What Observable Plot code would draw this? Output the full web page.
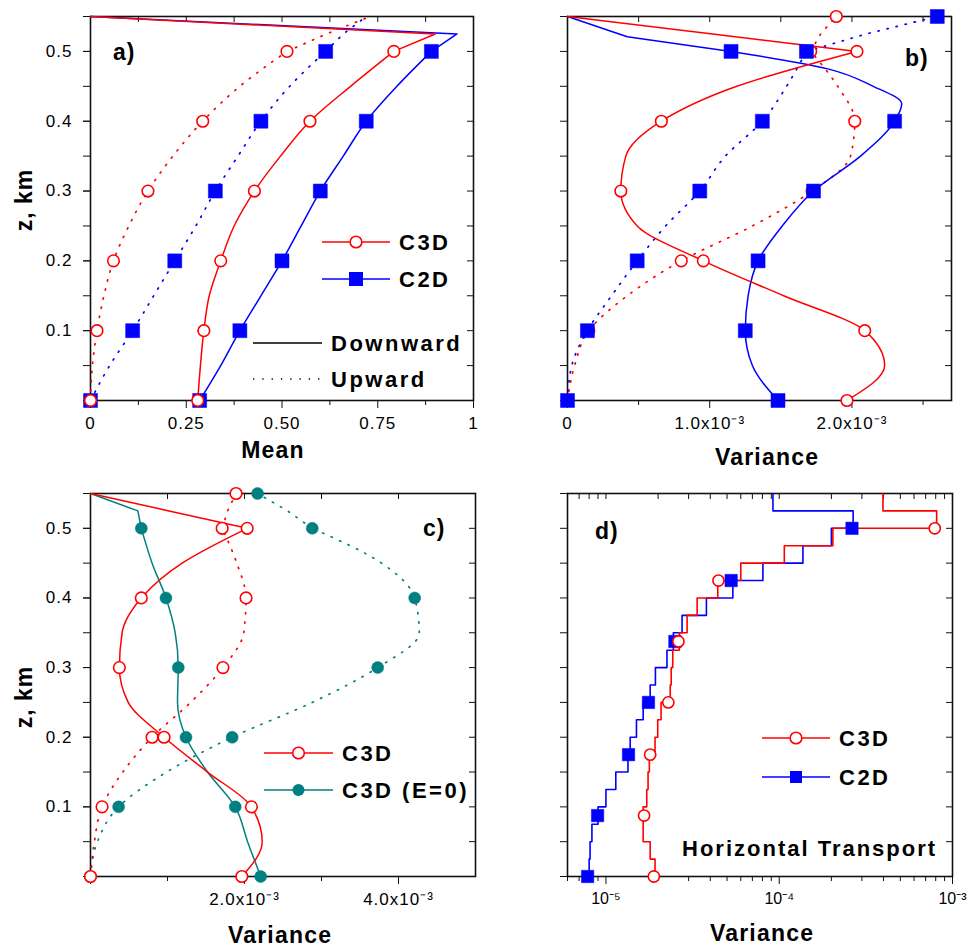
<!DOCTYPE html>
<html><head><meta charset="utf-8">
<script src="https://cdn.jsdelivr.net/npm/d3@7"></script>
<script src="https://cdn.jsdelivr.net/npm/@observablehq/plot@0.6"></script>
<style>
body{margin:0;background:#fff;}
#wrap{position:relative;width:967px;height:947px;background:#fff;overflow:hidden;}
</style></head><body><div id="wrap"></div>
<script>
// ---------------- DATA ----------------
// heights (km) at which the profiles were read
const zProfile = [0,0.05,0.1,0.15,0.2,0.25,0.3,0.35,0.4,0.45,0.5,0.525,0.55];
const zMarks = [0,0.1,0.2,0.3,0.4,0.5];
const zMarksTop = [0,0.1,0.2,0.3,0.4,0.5,0.55];

// panel a) Mean
const meanDown3D = [0.28,0.287,0.296,0.31,0.34,0.375,0.428,0.496,0.573,0.679,0.792,0.90,0];
const meanDown2D = [0.285,0.34,0.39,0.445,0.50,0.55,0.60,0.66,0.72,0.80,0.89,0.957,0];
const meanUp3D   = [0,0.005,0.017,0.035,0.06,0.10,0.15,0.215,0.293,0.39,0.513,0.616,0.73];
const meanUp2D   = [0,0.05,0.11,0.165,0.22,0.275,0.326,0.385,0.445,0.52,0.614,0.66,0.72];

// panels b) and c) Variance, in units of 1e-3
const varDown3D = [1.965,2.23,2.09,1.52,0.955,0.49,0.375,0.41,0.66,1.19,2.035,1.02,0];
const varUp3D   = [0,0.05,0.15,0.42,0.80,1.30,1.72,1.99,2.02,1.90,1.71,1.78,1.89];
const zDown2D   = [0,0.05,0.1,0.15,0.2,0.25,0.3,0.35,0.4,0.425,0.45,0.475,0.5,0.521,0.55];
const varDown2D = [1.48,1.30,1.25,1.27,1.34,1.51,1.73,2.06,2.30,2.35,2.15,1.83,1.15,0.42,0];
const varUp2D   = [0,0.03,0.14,0.31,0.49,0.69,0.93,1.11,1.37,1.54,1.68,2.10,2.60];
const varDownE0 = [2.21,2.04,1.88,1.52,1.24,1.13,1.14,1.10,0.98,0.80,0.66,0.615,0];
const varUpE0   = [0,0.09,0.365,0.99,1.84,2.88,3.73,4.27,4.21,3.78,2.88,2.56,2.17];

// panel d) Horizontal transport (step profiles, 0.025 km layers)
const zStep = [0,0.025,0.05,0.075,0.1,0.125,0.15,0.175,0.2,0.225,0.25,0.275,0.3,0.325,0.35,0.375,0.4,0.425,0.45,0.475,0.5,0.525,0.55];
const stepC3D = [1.92e-5,1.80e-5,1.64e-5,1.64e-5,1.72e-5,1.75e-5,1.78e-5,1.92e-5,1.99e-5,2.08e-5,2.35e-5,2.38e-5,2.43e-5,2.65e-5,2.94e-5,3.36e-5,4.42e-5,6.0e-5,1.07e-4,2.04e-4,8.1e-4,3.97e-4];
const stepC2D = [8.0e-6,8.1e-6,8.3e-6,9.0e-6,1.0e-5,1.14e-5,1.34e-5,1.38e-5,1.50e-5,1.64e-5,1.80e-5,1.93e-5,2.25e-5,2.45e-5,2.75e-5,3.8e-5,5.4e-5,8.05e-5,1.37e-4,2.0e-4,2.67e-4,9.2e-5];
const zMarkD = [0,0.0875,0.175,0.25,0.3375,0.425,0.5];
const markC3D = [1.89e-5,1.66e-5,1.80e-5,2.29e-5,2.62e-5,4.46e-5,7.9e-4];
const markC2D = [7.84e-6,8.95e-6,1.35e-5,1.76e-5,2.5e-5,5.28e-5,2.63e-4];

// ticks
const zTicks = [0,0.05,0.1,0.15,0.2,0.25,0.3,0.35,0.4,0.45,0.5,0.55];
const zLabels = [0.1,0.2,0.3,0.4,0.5];
const meanMajor = [0,0.25,0.5,0.75,1], meanMinor = [0.125,0.375,0.625,0.875];
const varBMajor = [0,1,2], varBMinor = [0.5,1.5,2.5];
const varCMajor = [0,2,4], varCMinor = [1,3];
const logMajor = [1e-5,1e-4,1e-3];
const logMinor = [6e-6,7e-6,8e-6,9e-6,2e-5,3e-5,4e-5,5e-5,6e-5,7e-5,8e-5,9e-5,2e-4,3e-4,4e-4,5e-4,6e-4,7e-4,8e-4,9e-4];

// ---------------- HELPERS ----------------
const RED = "#ff0000", BLUE = "#0000ff", TEAL = "#008080", INK = "#111";
const FONT = '"Liberation Sans", Arial, Helvetica, sans-serif';
const DOTS = "1.3 8";
const wrap = document.getElementById("wrap");
const rowsOf = (z, v) => z.map((zz, i) => ({z: zz, v: v[i]}));
const near = (a, b) => Math.abs(a - b) < 1e-9;
const lower = r => r.filter(d => d.z <= 0.5 + 1e-9);
const upper = r => r.filter(d => d.z >= 0.5 - 1e-9);
const at = (r, zs) => r.filter(d => zs.some(t => near(t, d.z)));

function profile(r, stroke, dotted) {
  const o = {x: "v", y: "z", stroke, strokeWidth: dotted ? 1.7 : 1.5};
  if (dotted) o.strokeDasharray = DOTS;
  return [Plot.line(lower(r), {...o, curve: "monotone-y"}), Plot.line(upper(r), {...o, curve: "linear"})];
}
const openCircle = (r, c, rr = 5.8) => Plot.dot(r, {x: "v", y: "z", r: rr, stroke: c, fill: "white", strokeWidth: 1.6});
const square = (r, c, rr = 7.9) => Plot.dot(r, {x: "v", y: "z", symbol: "square", r: rr, fill: c, stroke: c, strokeWidth: 0.5});
const disc = (r, c) => Plot.dot(r, {x: "v", y: "z", r: 6, fill: c, stroke: c, strokeWidth: 0.5});

function panel({left, top, width, height, mL, mR, mT, mB, x, xMajor, xMinor, xFormat, xFontSize = "17px", xLetter = "1px", yLabels, marks}) {
  const fw = width - mL - mR, fh = height - mT - mB;
  const svg = Plot.plot({
    width, height, marginLeft: mL, marginRight: mR, marginTop: mT, marginBottom: mB,
    x, y: {domain: [0, 0.55]},
    style: {fontFamily: FONT, fontSize: "17px", letterSpacing: "1px", background: "transparent", color: "#000", overflow: "visible"},
    marks: [
      Plot.frame({stroke: INK, strokeWidth: 1.6}),
      Plot.axisY({ticks: zTicks, tickSize: 7, tickFormat: () => "", label: null, stroke: INK}),
      yLabels ? Plot.axisY({ticks: zLabels, tickSize: 7, tickPadding: 11, tickFormat: d => d.toFixed(1), label: null, stroke: INK}) : null,
      Plot.axisX({ticks: xMinor, tickSize: 5, tickFormat: () => "", label: null, stroke: INK}),
      Plot.axisX({ticks: xMajor, tickSize: 8, tickPadding: 8, tickFormat: xFormat, label: null, stroke: INK, fontSize: xFontSize, style: null}),
      Plot.ruleX([...xMajor, ...xMinor], {insetBottom: fh - 6, stroke: INK}),
      Plot.ruleY(zTicks, {insetLeft: fw - 6, stroke: INK}),
      ...marks
    ].filter(Boolean)
  });
  svg.querySelectorAll('[aria-label="x-axis tick label"]').forEach(g => g.setAttribute("letter-spacing", xLetter));
  const div = document.createElement("div");
  div.style.position = "absolute"; div.style.left = left + "px"; div.style.top = top + "px";
  div.append(svg);
  wrap.append(div);
}

const sup = {"-": "⁻", "0": "⁰", "1": "¹", "2": "²", "3": "³", "4": "⁴", "5": "⁵", "6": "⁶", "7": "⁷", "8": "⁸", "9": "⁹"};
const toSup = s => String(s).split("").map(c => sup[c] || c).join("");

// ---------------- PANEL a ----------------
{
  const d3D = rowsOf(zProfile, meanDown3D), d2D = rowsOf(zProfile, meanDown2D);
  const u3D = rowsOf(zProfile, meanUp3D), u2D = rowsOf(zProfile, meanUp2D);
  panel({
    left: 0, top: 0, width: 480, height: 470, mL: 90, mR: 7, mT: 16, mB: 70,
    x: {domain: [0, 1]}, xMajor: meanMajor, xMinor: meanMinor,
    xFormat: d => d === 0 ? "0" : d === 1 ? "1" : d.toFixed(2), yLabels: true,
    marks: [
      ...profile(d2D, BLUE, false), ...profile(u2D, BLUE, true),
      ...profile(d3D, RED, false), ...profile(u3D, RED, true),
      square(at(d2D, zMarks), BLUE), square(at(u2D, zMarks), BLUE),
      openCircle(at(d3D, zMarks), RED), openCircle(at(u3D, zMarks), RED)
    ]
  });
}

// ---------------- PANEL b ----------------
{
  const d3D = rowsOf(zProfile, varDown3D), u3D = rowsOf(zProfile, varUp3D);
  const d2D = rowsOf(zDown2D, varDown2D), u2D = rowsOf(zProfile, varUp2D);
  panel({
    left: 480, top: 0, width: 487, height: 470, mL: 87, mR: 16, mT: 16, mB: 70,
    x: {domain: [0, 2.7]}, xMajor: varBMajor, xMinor: varBMinor,
    xFormat: d => d === 0 ? "0" : `${d.toFixed(1)}x10${toSup(-3)}`, yLabels: false,
    marks: [
      ...profile(u2D, BLUE, true), ...profile(u3D, RED, true),
      ...profile(d2D, BLUE, false), ...profile(d3D, RED, false),
      openCircle(at(u3D, zMarksTop), RED), square(at(u2D, zMarksTop), BLUE),
      square(at(d2D, zMarks), BLUE), openCircle(at(d3D, zMarks), RED)
    ]
  });
}

// ---------------- PANEL c ----------------
{
  const d3D = rowsOf(zProfile, varDown3D), u3D = rowsOf(zProfile, varUp3D);
  const dE0 = rowsOf(zProfile, varDownE0), uE0 = rowsOf(zProfile, varUpE0);
  panel({
    left: 0, top: 470, width: 480, height: 477, mL: 90, mR: 5, mT: 23, mB: 71,
    x: {domain: [0, 5]}, xMajor: varCMajor, xMinor: varCMinor,
    xFormat: d => d === 0 ? "" : `${d.toFixed(1)}x10${toSup(-3)}`, yLabels: true,
    marks: [
      ...profile(uE0, TEAL, true), ...profile(u3D, RED, true),
      ...profile(dE0, TEAL, false), ...profile(d3D, RED, false),
      disc(at(uE0, zMarksTop), TEAL), openCircle(at(u3D, zMarksTop), RED),
      disc(at(dE0, zMarks), TEAL), openCircle(at(d3D, zMarks), RED)
    ]
  });
}

// ---------------- PANEL d ----------------
{
  const s3D = zStep.map((z, i) => ({z, v: stepC3D[Math.min(i, stepC3D.length - 1)]}));
  const s2D = zStep.map((z, i) => ({z, v: stepC2D[Math.min(i, stepC2D.length - 1)]}));
  panel({
    left: 480, top: 470, width: 487, height: 477, mL: 87, mR: 15, mT: 23, mB: 71,
    x: {type: "log", domain: [6e-6, 1e-3]}, xMajor: logMajor, xMinor: logMinor,
    xFormat: d => `10${toSup(Math.round(Math.log10(d)))}`, xFontSize: "16px", xLetter: "0px", yLabels: false,
    marks: [
      Plot.line(s2D, {x: "v", y: "z", stroke: BLUE, strokeWidth: 1.6, curve: "step-before"}),
      Plot.line(s3D, {x: "v", y: "z", stroke: RED, strokeWidth: 1.6, curve: "step-before"}),
      square(rowsOf(zMarkD, markC2D), BLUE, 7),
      openCircle(rowsOf(zMarkD, markC3D), RED, 5.6)
    ]
  });
}

// ---------------- ANNOTATIONS (titles, panel letters, legends) ----------------
const ov = d3.select(wrap).append("svg")
  .attr("width", 967).attr("height", 947)
  .style("position", "absolute").style("left", "0px").style("top", "0px")
  .attr("font-family", FONT).attr("font-weight", "bold").attr("fill", "#000");

function text(s, x, y, {size = 22, ls = 1, anchor = "start", rotate = 0} = {}) {
  ov.append("text").text(s)
    .attr("transform", `translate(${x},${y}) rotate(${rotate})`)
    .attr("font-size", size).attr("letter-spacing", ls).attr("text-anchor", anchor);
}
// panel letters
text("a)", 113, 60, {size: 23}); text("b)", 905, 66, {size: 23});
text("c)", 423, 536, {size: 23}); text("d)", 595, 539, {size: 23});
// axis titles
text("Mean", 273, 458, {size: 23, ls: 1.2, anchor: "middle"});
text("Variance", 767, 465, {size: 23, ls: 1.2, anchor: "middle"});
text("Variance", 280, 943, {size: 23, ls: 1.2, anchor: "middle"});
text("Variance", 762, 941, {size: 23, ls: 1.2, anchor: "middle"});
text("z, km", 32, 200, {size: 23, ls: 1, anchor: "middle", rotate: -90});
text("z, km", 32, 697, {size: 23, ls: 1, anchor: "middle", rotate: -90});
text("Horizontal Transport", 682, 856, {size: 22, ls: 2});

function legendRow(x1, x2, y, color, label, {marker = null, dotted = false} = {}) {
  const l = ov.append("line").attr("x1", x1).attr("x2", x2).attr("y1", y).attr("y2", y)
    .attr("stroke", color).attr("stroke-width", dotted ? 1.7 : 1.6);
  if (dotted) l.attr("stroke-dasharray", DOTS);
  const cx = (x1 + x2) / 2;
  if (marker === "circle") ov.append("circle").attr("cx", cx).attr("cy", y).attr("r", 5.8).attr("fill", "white").attr("stroke", color).attr("stroke-width", 1.6);
  if (marker === "square") ov.append("rect").attr("x", cx - 7).attr("y", y - 7).attr("width", 14).attr("height", 14).attr("fill", color);
  if (marker === "smallsquare") ov.append("rect").attr("x", cx - 6).attr("y", y - 6).attr("width", 12).attr("height", 12).attr("fill", color);
  if (marker === "disc") ov.append("circle").attr("cx", cx).attr("cy", y).attr("r", 6).attr("fill", color);
  text(label, x2 + 9, y + 8, {size: 22, ls: 2.5});
}
legendRow(322, 390, 242, RED, "C3D", {marker: "circle"});
legendRow(322, 390, 279, BLUE, "C2D", {marker: "square"});
legendRow(253, 322, 343, "#000", "Downward");
legendRow(253, 322, 379, "#000", "Upward", {dotted: true});
legendRow(264, 333, 753, RED, "C3D", {marker: "circle"});
legendRow(264, 333, 790, TEAL, "C3D (E=0)", {marker: "disc"});
legendRow(762, 830, 738, RED, "C3D", {marker: "circle"});
legendRow(762, 830, 777, BLUE, "C2D", {marker: "smallsquare"});
</script>
</body></html>
